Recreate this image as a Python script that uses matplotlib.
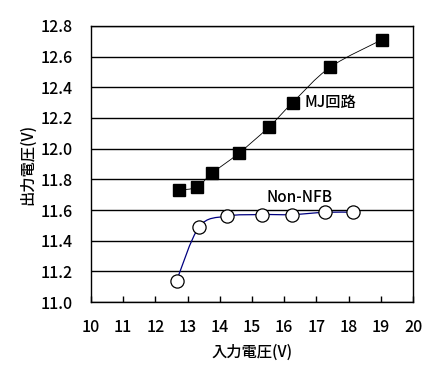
import matplotlib
matplotlib.use("Agg")
import matplotlib.pyplot as plt
from matplotlib.path import Path
from matplotlib.patches import PathPatch

plt.rcParams['font.family'] = ['Noto Sans CJK JP', 'DejaVu Sans']

# data
mj_vin = [12.74, 13.29, 13.76, 14.59, 15.52, 16.26, 17.42, 19.03]
mj_vout = [11.73, 11.75, 11.84, 11.97, 12.14, 12.30, 12.53, 12.71]
nfb_vin = [12.66, 13.36, 14.21, 15.30, 16.25, 17.27, 18.15]
nfb_vout = [11.14, 11.49, 11.56, 11.57, 11.57, 11.585, 11.585]

x_ticks = list(range(10, 21))
y_ticks = [11.0, 11.2, 11.4, 11.6, 11.8, 12.0, 12.2, 12.4, 12.6, 12.8]


def smooth_path(xs, ys, t=1/6):
    # Excel-like smoothed line: cubic bezier through the points
    verts = [(xs[0], ys[0])]
    codes = [Path.MOVETO]
    n = len(xs)
    for i in range(n - 1):
        x0, y0 = (xs[i - 1], ys[i - 1]) if i > 0 else (xs[i], ys[i])
        x1, y1 = xs[i], ys[i]
        x2, y2 = xs[i + 1], ys[i + 1]
        x3, y3 = (xs[i + 2], ys[i + 2]) if i + 2 < n else (x2, y2)
        c1 = (x1 + (x2 - x0) * t, y1 + (y2 - y0) * t)
        c2 = (x2 - (x3 - x1) * t, y2 - (y3 - y1) * t)
        verts += [c1, c2, (x2, y2)]
        codes += [Path.CURVE4] * 3
    return Path(verts, codes)


fig = plt.figure(figsize=(4.4, 3.74), dpi=100)
ax = fig.add_axes([0.2068, 0.1925, 0.7318, 0.738])

ax.set_xlim(10, 20)
ax.set_ylim(11.0, 12.8)
ax.set_xticks(x_ticks)
ax.set_yticks(y_ticks)
ax.set_yticklabels([f"{v:.1f}" for v in y_ticks])

for v in y_ticks:
    ax.axhline(v, color='black', lw=1.0, zorder=1)

ax.add_patch(PathPatch(smooth_path(mj_vin, mj_vout), fill=False, ec='black', lw=0.6, zorder=2))
ax.add_patch(PathPatch(smooth_path(nfb_vin, nfb_vout), fill=False, ec='#000080', lw=0.9, zorder=2))

ax.plot(mj_vin, mj_vout, ls='none', marker='s', ms=8.5, mfc='black', mec='black', zorder=3)
ax.plot(nfb_vin, nfb_vout, ls='none', marker='o', ms=9.5, mfc='white', mec='black', mew=0.9, zorder=3)

ax.text(16.62, 12.30, "MJ回路", fontsize=11, fontweight='medium', va='center', ha='left')
ax.text(16.49, 11.68, "Non-NFB", fontsize=11, fontweight='medium', va='center', ha='center')

for s in ax.spines.values():
    s.set_linewidth(1.0)
    s.set_color('black')

ax.tick_params(axis='x', direction='in', length=4, width=1, pad=12, labelsize=11.5)
ax.tick_params(axis='y', length=0, pad=13, labelsize=11.5)
for lab in ax.get_xticklabels() + ax.get_yticklabels():
    lab.set_fontweight('medium')

ax.set_xlabel("入力電圧(V)", fontsize=11, fontweight='medium', labelpad=6)
ax.set_ylabel("出力電圧(V)", fontsize=11, fontweight='medium', labelpad=3)

fig.savefig("out.png", dpi=100)
